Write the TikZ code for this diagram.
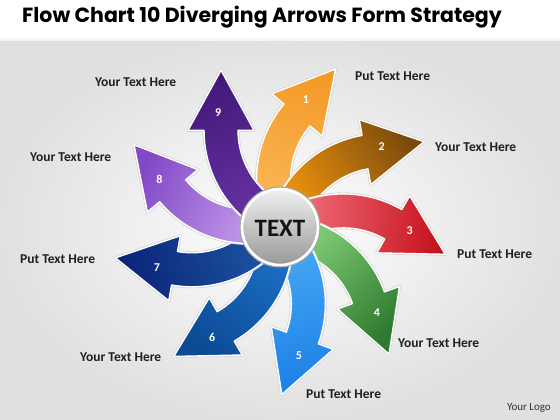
\documentclass[tikz,border=0pt]{standalone}
\usepackage{fontspec}
\setmainfont{Carlito}
\newfontfamily\titlefont{Poppins}
\usetikzlibrary{calc}
\definecolor{a1b}{HTML}{F9B552}\definecolor{a1h}{HTML}{F39A28}
\definecolor{a2b}{HTML}{E8900E}\definecolor{a2h}{HTML}{7A4A0C}
\definecolor{a3b}{HTML}{F06A76}\definecolor{a3h}{HTML}{C4121C}
\definecolor{a4b}{HTML}{7CC872}\definecolor{a4h}{HTML}{2E7A30}
\definecolor{a5b}{HTML}{45A8F4}\definecolor{a5h}{HTML}{1C7FE6}
\definecolor{a6b}{HTML}{1A6CC0}\definecolor{a6h}{HTML}{0C4A94}
\definecolor{a7b}{HTML}{1B52A0}\definecolor{a7h}{HTML}{0B2478}
\definecolor{a8b}{HTML}{BC92E6}\definecolor{a8h}{HTML}{8248C6}
\definecolor{a9b}{HTML}{6431A0}\definecolor{a9h}{HTML}{42197A}
\begin{document}
\begin{tikzpicture}[x=1pt,y=1pt,
  numtxt/.style={text=white,font=\bfseries\fontsize{12}{12}\selectfont},
  lbl/.style={anchor=west,text=black!88,inner sep=0pt,font=\bfseries\fontsize{13.5}{14}\selectfont},
  halo/.style={draw=black!16,line width=3pt,line join=round},
  rim/.style={draw=white,line width=1.4pt,line join=round}]
\useasboundingbox (-280,-193) rectangle (280,227);
% background
\shade[inner color=white,outer color=black!12] (-280,-193) rectangle (280,191);
\fill[white] (-280,191) rectangle (280,227);
\shade[top color=white,bottom color=black!6] (-280,186) rectangle (280,191);
% arrows
\foreach \k in {1,...,9}{
  \begin{scope}[rotate={-40*(\k-1)}]
    \coordinate (O\k) at (93.6,47.7);
    \coordinate (T\k) at (55.6,158);
    \path[halo] ($(O\k)+(192:117)$) arc[start angle=192,end angle=140,radius=117]
      -- ($(O\k)+(140:133)$) -- (T\k) -- ($(O\k)+(140:67)$)
      -- ($(O\k)+(140:83)$) arc[start angle=140,end angle=192,radius=83] -- cycle;
    \shade[rim,top color=a\k h,bottom color=a\k b,shading angle={-15-40*(\k-1)}]
      ($(O\k)+(192:117)$) arc[start angle=192,end angle=140,radius=117]
      -- ($(O\k)+(140:133)$) -- (T\k) -- ($(O\k)+(140:67)$)
      -- ($(O\k)+(140:83)$) arc[start angle=140,end angle=192,radius=83] -- cycle;
    \node[numtxt] (n\k) at (26,127) {\k};
  \end{scope}
}
% centre
\fill[black!35] (0,0) circle (40.5);
\shade[top color=black!6,bottom color=black!40,draw=white,line width=2.6pt] (0,0) circle (38);
\node[font=\bfseries\fontsize{25}{25}\selectfont,text=black!92] (ctr) at (0,-1) {TEXT};
% labels
\node[lbl] (l1) at (75,151) {Put Text Here};
\node[lbl] (l2) at (155,80) {Your Text Here};
\node[lbl] (l3) at (177,-27) {Put Text Here};
\node[lbl] (l4) at (118,-116) {Your Text Here};
\node[lbl] (l5) at (26,-167) {Put Text Here};
\node[lbl] (l6) at (-200,-130) {Your Text Here};
\node[lbl] (l7) at (-260,-32) {Put Text Here};
\node[lbl] (l8) at (-250,70) {Your Text Here};
\node[lbl] (l9) at (-185,145) {Your Text Here};
% title and logo
\node[anchor=west,inner sep=0pt,font=\titlefont\bfseries\fontsize{20.5}{20.5}\selectfont] (title) at (-258,210) {Flow Chart 10 Diverging Arrows Form Strategy};
\node[anchor=east,inner sep=0pt,text=black!80,font=\fontsize{11}{11}\selectfont] (logo) at (271,-181) {Your Logo};
\end{tikzpicture}
\end{document}
